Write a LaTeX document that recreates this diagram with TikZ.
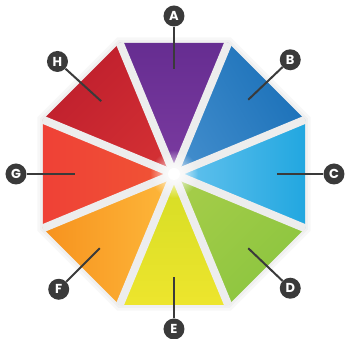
\documentclass[tikz,border=0pt]{standalone}
\usepackage{fontspec}
\newfontfamily\lblfont{Poppins}
\usetikzlibrary{fadings}

\definecolor{cA}{HTML}{662D91}\definecolor{cAi}{HTML}{7B3BA0}
\definecolor{cB}{HTML}{1A70B8}\definecolor{cBi}{HTML}{3F8BCB}
\definecolor{cC}{HTML}{22A7E0}\definecolor{cCi}{HTML}{66C3EE}
\definecolor{cD}{HTML}{8BC53F}\definecolor{cDi}{HTML}{A3CC48}
\definecolor{cE}{HTML}{EDE52D}\definecolor{cEi}{HTML}{D5DD25}
\definecolor{cF}{HTML}{F7921E}\definecolor{cFi}{HTML}{FDB83B}
\definecolor{cG}{HTML}{EF4136}\definecolor{cGi}{HTML}{F05535}
\definecolor{cH}{HTML}{BE1E2D}\definecolor{cHi}{HTML}{D22F33}
\definecolor{gapgrey}{HTML}{EDEDED}
\definecolor{lblgrey}{HTML}{3A3A3A}

\tikzfading[name=glow, inner color=transparent!0, outer color=transparent!100]

\begin{document}
\begin{tikzpicture}[x=1pt,y=1pt,
	gap/.style={draw=gapgrey, line width=8pt},
	lbl/.style={circle, fill=lblgrey, text=white, inner sep=0pt, minimum size=21pt,
		font=\lblfont\bfseries\fontsize{13}{13}\selectfont},
	lead/.style={draw=lblgrey, line width=2pt}]
	\useasboundingbox (-174,-165) rectangle (172,174);

	% octagon corners
	\coordinate (v1) at (22.5:141.8);
	\coordinate (v2) at (67.5:141.8);
	\coordinate (v3) at (112.5:141.8);
	\coordinate (v4) at (157.5:141.8);
	\coordinate (v5) at (202.5:141.8);
	\coordinate (v6) at (247.5:141.8);
	\coordinate (v7) at (292.5:141.8);
	\coordinate (v8) at (337.5:141.8);

	% soft shadow
	\fill[black!3] (22.5:148) -- (67.5:148) -- (112.5:148) -- (157.5:148) -- (202.5:148) -- (247.5:148) -- (292.5:148) -- (337.5:148) -- cycle;
	\fill[black!6] (22.5:145) -- (67.5:145) -- (112.5:145) -- (157.5:145) -- (202.5:145) -- (247.5:145) -- (292.5:145) -- (337.5:145) -- cycle;

	% wedges
	\shade[top color=cA, bottom color=cAi, shading angle=0] (0,0) -- (v2) -- (v3) -- cycle;
	\shade[top color=cB, middle color=cB, bottom color=cBi, shading angle=-60] (0,0) -- (v1) -- (v2) -- cycle;
	\shade[top color=cC, bottom color=cCi, shading angle=-90] (0,0) -- (v8) -- (v1) -- cycle;
	\shade[top color=cD, bottom color=cDi, shading angle=-135] (0,0) -- (v7) -- (v8) -- cycle;
	\shade[top color=cE, bottom color=cEi, shading angle=180] (0,0) -- (v6) -- (v7) -- cycle;
	\shade[top color=cF, bottom color=cFi, shading angle=90] (0,0) -- (v5) -- (v6) -- cycle;
	\shade[top color=cG, bottom color=cGi, shading angle=90] (0,0) -- (v4) -- (v5) -- cycle;
	\shade[top color=cH, bottom color=cHi, shading angle=45] (0,0) -- (v3) -- (v4) -- cycle;

	% gaps
	\draw[gap] (0,0) -- (v1);
	\draw[gap] (0,0) -- (v2);
	\draw[gap] (0,0) -- (v3);
	\draw[gap] (0,0) -- (v4);
	\draw[gap] (0,0) -- (v5);
	\draw[gap] (0,0) -- (v6);
	\draw[gap] (0,0) -- (v7);
	\draw[gap] (0,0) -- (v8);
	\fill[white, path fading=glow] (0,0) circle (24);
	\fill[white] (0,0) circle (6);

	% labels
	\node[lbl] (A) at (90:158) {A};
	\node[lbl] (B) at (44.5:163) {B};
	\node[lbl] (C) at (0:160) {C};
	\node[lbl] (D) at (-44.5:163) {D};
	\node[lbl] (E) at (-90:155) {E};
	\node[lbl] (F) at (-135:163) {F};
	\node[lbl] (G) at (180:158) {G};
	\node[lbl] (H) at (136:162) {H};

	\coordinate (a) at (90:105);
	\coordinate (b) at (45:105);
	\coordinate (c) at (0:103);
	\coordinate (d) at (-45:105);
	\coordinate (e) at (-90:103);
	\coordinate (f) at (-135:105);
	\coordinate (g) at (180:99);
	\coordinate (h) at (135:103);

	\draw[lead] (A) -- (a);
	\draw[lead] (B) -- (b);
	\draw[lead] (C) -- (c);
	\draw[lead] (D) -- (d);
	\draw[lead] (E) -- (e);
	\draw[lead] (F) -- (f);
	\draw[lead] (G) -- (g);
	\draw[lead] (H) -- (h);
\end{tikzpicture}
\end{document}
